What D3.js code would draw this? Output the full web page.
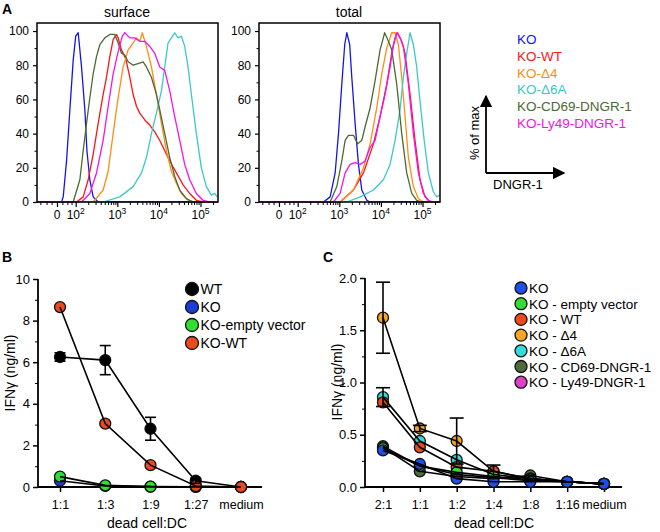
<!DOCTYPE html>
<html><head><meta charset="utf-8">
<script src="https://cdn.jsdelivr.net/npm/d3@7"></script>
<style>body{margin:0;background:#fff} svg{display:block;font-family:"Liberation Sans",Arial,sans-serif}</style>
</head><body><svg id="c" width="660" height="532"></svg>
<script>
// ---------- Panel A data: [DNGR-1 (log10 display units), % of max] ----------
const histNames = ["KO","KO-WT","KO-Δ4","KO-Δ6A","KO-CD69-DNGR-1","KO-Ly49-DNGR-1"];
const histColors = ["#1414e6","#ff1414","#ff8c14","#3cc8c8","#4b6a32","#f014f0"];
const histXTicks = [1.55, 2, 3, 4, 5];
const histXTickLabels = [["0",""],["10","2"],["10","3"],["10","4"],["10","5"]];
const histYTicks = [0,20,40,60,80,100];

const surfKO = [[1.66,0],[1.70,3],[1.78,24],[1.86,54],[1.94,83],[2.0,97],[2.06,99],[2.14,79],[2.22,54],[2.27,30],[2.34,13],[2.42,3],[2.54,0]];
const surfWT = [[2.02,0],[2.18,3],[2.30,13],[2.42,28],[2.54,46],[2.66,63],[2.74,73],[2.82,85],[2.90,95],[2.98,98],[3.02,96],[3.10,89],[3.20,84],[3.30,73],[3.38,63],[3.46,56],[3.54,52],[3.66,48],[3.78,45],[3.90,41],[4.02,36],[4.14,30],[4.26,24],[4.42,17],[4.58,10],[4.74,5],[4.90,1],[5.06,0]];
const surfD4 = [[2.42,0],[2.66,7],[2.78,18],[2.90,40],[3.02,61],[3.14,79],[3.26,89],[3.38,93],[3.46,96],[3.54,94],[3.60,99],[3.70,91],[3.82,79],[3.94,63],[4.06,46],[4.18,30],[4.30,18],[4.42,11],[4.54,5],[4.70,1],[4.86,0]];
const surfD6A = [[2.66,0],[3.06,3],[3.38,9],[3.58,17],[3.70,26],[3.82,40],[3.94,52],[4.06,65],[4.14,79],[4.22,93],[4.30,96],[4.38,99],[4.46,96],[4.54,97],[4.62,91],[4.70,79],[4.78,63],[4.90,40],[5.02,20],[5.14,9],[5.26,4],[5.34,5],[5.40,3]];
const surfCD69 = [[1.94,0],[2.10,13],[2.18,30],[2.26,46],[2.34,61],[2.42,75],[2.50,85],[2.58,92],[2.70,96],[2.82,98],[2.94,98],[3.02,93],[3.10,87],[3.18,86],[3.26,82],[3.38,80],[3.50,81],[3.62,82],[3.70,79],[3.82,73],[3.94,63],[4.02,54],[4.14,40],[4.26,26],[4.38,15],[4.50,7],[4.66,2],[4.82,0]];
const surfLy49 = [[2.14,0],[2.34,5],[2.50,17],[2.66,36],[2.78,56],[2.90,75],[3.02,88],[3.12,97],[3.18,99],[3.30,96],[3.42,96],[3.54,94],[3.66,94],[3.78,91],[3.90,87],[4.02,79],[4.14,77],[4.26,65],[4.38,50],[4.50,36],[4.62,22],[4.74,13],[4.90,5],[5.06,1],[5.22,0]];

const totKO = [[2.62,0],[2.78,3],[2.90,17],[2.98,40],[3.06,69],[3.13,92],[3.18,99],[3.25,92],[3.30,73],[3.38,46],[3.46,22],[3.54,7],[3.66,1],[3.74,0]];
const totWT = [[3.02,0],[3.34,7],[3.58,17],[3.82,34],[3.98,50],[4.14,69],[4.26,87],[4.34,96],[4.40,99],[4.50,94],[4.58,87],[4.70,63],[4.82,36],[4.94,13],[5.06,3],[5.18,0]];
const totD4 = [[3.02,0],[3.34,7],[3.58,20],[3.74,34],[3.90,55],[4.02,75],[4.14,90],[4.26,99],[4.34,99],[4.42,92],[4.50,73],[4.58,50],[4.66,26],[4.78,9],[4.90,2],[5.02,0]];
const totD6A = [[3.18,0],[3.50,3],[3.82,7],[4.06,13],[4.22,22],[4.34,36],[4.46,54],[4.54,73],[4.62,87],[4.70,99],[4.78,92],[4.86,79],[4.94,59],[5.04,36],[5.14,17],[5.26,6],[5.34,3],[5.41,4]];
const totCD69 = [[2.78,0],[2.94,9],[3.06,24],[3.14,36],[3.22,39],[3.34,39],[3.44,34],[3.54,36],[3.62,44],[3.74,55],[3.86,71],[3.98,89],[4.09,99],[4.18,94],[4.26,89],[4.38,69],[4.50,40],[4.62,17],[4.74,5],[4.86,1],[4.98,0]];
const totLy49 = [[2.86,0],[3.02,5],[3.14,17],[3.26,22],[3.38,23],[3.50,22],[3.62,24],[3.74,32],[3.86,36],[3.98,50],[4.10,63],[4.22,79],[4.30,92],[4.38,99],[4.46,96],[4.54,91],[4.66,69],[4.78,40],[4.90,17],[5.02,5],[5.14,1],[5.26,0]];

// ---------- Panel B data ----------
const bCats = ["1:1","1:3","1:9","1:27","medium"];
const bNames = ["WT","KO","KO-empty vector","KO-WT"];
const bColors = ["#000000","#1c3cd8","#33dd33","#ea4a1e"];
const bWT = [6.25,6.1,2.8,0.3,0];
const bWTerr = [0.2,0.7,0.55,0.12,0];
const bKO = [0.3,0.05,0.02,0.01,0];
const bEmpty = [0.5,0.08,0.02,0.01,0];
const bKOWT = [8.65,3.05,1.05,0.05,0];
const bYTicks = [0,2,4,6,8,10];

// ---------- Panel C data ----------
const cCats = ["2:1","1:1","1:2","1:4","1:8","1:16","medium"];
const cNames = ["KO","KO - empty vector","KO - WT","KO - Δ4","KO - Δ6A","KO - CD69-DNGR-1","KO - Ly49-DNGR-1"];
const cColors = ["#1f4fe8","#33dd33","#ea4a1e","#f5a623","#33dddd","#4d6b3c","#e040c8"];
const cKO = [0.35,0.22,0.08,0.05,0.05,0.05,0.03];
const cEmpty = [0.37,0.20,0.14,0.10,0.07,0.05,0.03];
const cWT = [0.81,0.38,0.19,0.15,0.08,0.05,0.03];
const cD4 = [1.62,0.56,0.44,0.15,0.08,0.05,0.03];
const cD4err = [0.34,0.03,0.22,0.06,0,0,0];
const cD6A = [0.86,0.44,0.26,0.12,0.08,0.05,0.03];
const cD6Aerr = [0.09,0,0,0,0,0,0];
const cCD69 = [0.38,0.15,0.10,0.08,0.11,0.05,0.03];
const cLy49 = [0.39,0.20,0.12,0.09,0.06,0.05,0.03];
const cYTicks = [0,0.5,1.0,1.5,2.0];

const svg = d3.select("#c");
const FONT = '"Liberation Sans",Arial,sans-serif';

// panel letters
[["A",2,14],["B",2,262],["C",323,262]].forEach(([t,x,y])=>{
  svg.append("text").attr("x",x).attr("y",y).attr("font-size",14).attr("font-weight","bold").text(t);
});

// ---------- Histogram panels ----------
function histPanel(x0, title, curves){
  const x = d3.scaleLinear().domain([1.07,5.42]).range([x0, x0+181]);
  const y = d3.scaleLinear().domain([0,104.7]).range([202,23]);
  const g = svg.append("g");
  const clipId = "clip"+x0;
  g.append("clipPath").attr("id",clipId).append("rect")
    .attr("x",x0).attr("y",20).attr("width",181).attr("height",182.5);
  const line = d3.line().x(d=>x(d[0])).y(d=>y(d[1]));
  const cg = g.append("g").attr("clip-path",`url(#${clipId})`);
  curves.forEach((c,i)=>{
    let pts = c.slice();
    if (pts[0][1]===0) pts.unshift([x.domain()[0],0]);
    if (pts[pts.length-1][1]===0) pts.push([x.domain()[1],0]);
    cg.append("path").attr("d",line(pts)).attr("fill","none")
      .attr("stroke",histColors[i]).attr("stroke-width",1.3).attr("stroke-linejoin","round");
  });
  g.append("rect").attr("x",x0).attr("y",23).attr("width",181).attr("height",179)
    .attr("fill","none").attr("stroke","#000").attr("stroke-width",1.5);
  // y axis
  const ya = g.append("g").attr("transform",`translate(${x0},0)`)
    .call(d3.axisLeft(y).tickValues(histYTicks).tickSize(4).tickSizeOuter(0));
  ya.select(".domain").remove();
  ya.selectAll("text").attr("font-size",12).attr("font-family",FONT).attr("fill","#000").attr("dx",-1);
  ya.selectAll("line").attr("stroke-width",1.2);
  const ym = g.append("g").attr("transform",`translate(${x0},0)`)
    .call(d3.axisLeft(y).tickValues(d3.range(10,100,20)).tickSize(2.5).tickFormat(""));
  ym.select(".domain").remove();
  // x axis
  const minor = [1.15,1.3,1.42,1.68,1.8,1.9];
  for (let n=2;n<=5;n++) for (let k=2;k<=9;k++){ const v=n+Math.log10(k); if (v<5.42) minor.push(v); }
  const xm = g.append("g").attr("transform","translate(0,202)")
    .call(d3.axisBottom(x).tickValues(minor).tickSize(3).tickFormat(""));
  xm.select(".domain").remove();
  const xa = g.append("g").attr("transform","translate(0,202)")
    .call(d3.axisBottom(x).tickValues(histXTicks).tickSize(5).tickFormat(""));
  xa.select(".domain").remove();
  xa.selectAll("line").attr("stroke-width",1.2);
  histXTicks.forEach((v,i)=>{
    const t = g.append("text").attr("x",x(v)).attr("y",219).attr("text-anchor","middle")
      .attr("font-size",12);
    t.append("tspan").text(histXTickLabels[i][0]);
    if (histXTickLabels[i][1]) t.append("tspan").attr("dy",-5).attr("font-size",8.5).text(histXTickLabels[i][1]);
  });
  g.append("text").attr("x",x0+90).attr("y",17).attr("text-anchor","middle").attr("font-size",14).text(title);
}
histPanel(37,"surface",[surfKO,surfWT,surfD4,surfD6A,surfCD69,surfLy49]);
histPanel(259,"total",[totKO,totWT,totD4,totD6A,totCD69,totLy49]);

// legend A
histNames.forEach((n,i)=>{
  svg.append("text").attr("x",517).attr("y",44+i*16.8).attr("font-size",13.5)
    .attr("fill",histColors[i]).text(n);
});
// axis arrows
svg.append("defs").append("marker").attr("id","arr").attr("viewBox","0 0 10 10")
  .attr("refX",9).attr("refY",5).attr("markerWidth",7).attr("markerHeight",7).attr("orient","auto")
  .append("path").attr("d","M0,0L10,5L0,10z").attr("fill","#000");
svg.append("line").attr("x1",486).attr("y1",173).attr("x2",486).attr("y2",96)
  .attr("stroke","#000").attr("stroke-width",1.8).attr("marker-end","url(#arr)");
svg.append("line").attr("x1",486).attr("y1",173).attr("x2",564).attr("y2",173)
  .attr("stroke","#000").attr("stroke-width",1.8).attr("marker-end","url(#arr)");
svg.append("text").attr("transform","translate(479,133) rotate(-90)").attr("text-anchor","middle")
  .attr("font-size",13).text("% of max");
svg.append("text").attr("x",493).attr("y",189).attr("font-size",13).text("DNGR-1");

// ---------- Dot/line panels ----------
function linePanel(opt){
  const x = d3.scalePoint().domain(opt.cats).range(opt.xr);
  const y = d3.scaleLinear().domain(opt.yd).range([487, opt.ytop]);
  const g = svg.append("g");
  // axes
  g.append("line").attr("x1",opt.ax).attr("x2",opt.axEnd).attr("y1",487).attr("y2",487).attr("stroke","#000").attr("stroke-width",1.8);
  g.append("line").attr("x1",opt.ax).attr("x2",opt.ax).attr("y1",487).attr("y2",opt.ytop).attr("stroke","#000").attr("stroke-width",1.8);
  const ya = g.append("g").attr("transform",`translate(${opt.ax},0)`)
    .call(d3.axisLeft(y).tickValues(opt.yticks).tickSize(5).tickFormat(opt.fmt));
  ya.select(".domain").remove();
  ya.selectAll("line").attr("stroke-width",1.5);
  ya.selectAll("text").attr("font-size",13).attr("font-family",FONT).attr("fill","#000");
  const ym = g.append("g").attr("transform",`translate(${opt.ax},0)`)
    .call(d3.axisLeft(y).tickValues(opt.yminor).tickSize(3).tickFormat(""));
  ym.select(".domain").remove();
  const xa = g.append("g").attr("transform","translate(0,487)")
    .call(d3.axisBottom(x).tickSize(5));
  xa.select(".domain").remove();
  xa.selectAll("line").attr("stroke-width",1.5);
  xa.selectAll("text").attr("font-size",12.5).attr("font-family",FONT).attr("fill","#000").attr("dy","1.1em");
  g.append("text").attr("x",opt.xlabX).attr("y",528).attr("text-anchor","middle").attr("font-size",14).text("dead cell:DC");
  g.append("text").attr("transform",`translate(${opt.ylabX},${opt.ylabY}) rotate(-90)`).attr("text-anchor","middle")
    .attr("font-size",14).text("IFNγ (ng/ml)");
  // markers
  const order = opt.order;
  order.forEach(i=>{
    const s = opt.series[i];
    g.selectAll(null).data(s).enter().append("circle")
      .attr("cx",(d,j)=>x(opt.cats[j])).attr("cy",d=>y(d)).attr("r",opt.r)
      .attr("fill",opt.colors[i]).attr("stroke","#111").attr("stroke-width",1.3);
  });
  // error bars
  opt.errs.forEach(([i,e])=>{
    opt.series[i].forEach((v,j)=>{
      if (!e[j]) return;
      const cx = x(opt.cats[j]);
      const lo = y(Math.max(0,v-e[j])), hi = y(v+e[j]);
      g.append("line").attr("x1",cx).attr("x2",cx).attr("y1",lo).attr("y2",hi).attr("stroke","#000").attr("stroke-width",1.6);
      [lo,hi].forEach(yy=>g.append("line").attr("x1",cx-opt.cap).attr("x2",cx+opt.cap).attr("y1",yy).attr("y2",yy).attr("stroke","#000").attr("stroke-width",1.6));
    });
  });
  // lines
  const line = d3.line().x((d,j)=>x(opt.cats[j])).y(d=>y(d));
  order.forEach(i=>{
    g.append("path").attr("d",line(opt.series[i])).attr("fill","none").attr("stroke","#000").attr("stroke-width",1.6);
  });
  // legend
  opt.names.forEach((n,i)=>{
    const ly = opt.legY + i*opt.legDy;
    g.append("circle").attr("cx",opt.legX).attr("cy",ly).attr("r",opt.legR)
      .attr("fill",opt.colors[i]).attr("stroke","#111").attr("stroke-width",1.3);
    g.append("text").attr("x",opt.legX+opt.legR+2).attr("y",ly+5).attr("font-size",opt.legFont).text(n);
  });
}

linePanel({cats:bCats, xr:[60,241], yd:[0,10], ytop:279, ax:38, axEnd:262,
  yticks:bYTicks, yminor:[1,3,5,7,9], fmt:d3.format("d"),
  xlabX:147, ylabX:15, ylabY:373, r:5.5, cap:5.5,
  series:[bWT,bKO,bEmpty,bKOWT], colors:bColors, names:bNames, order:[1,2,0,3],
  errs:[[0,bWTerr]], legX:192, legY:289, legDy:18, legR:6.5, legFont:14});

linePanel({cats:cCats, xr:[383,604], yd:[0,2], ytop:278, ax:365, axEnd:622,
  yticks:cYTicks, yminor:[0.25,0.75,1.25,1.75], fmt:d3.format(".1f"),
  xlabX:494, ylabX:342, ylabY:382, r:5.5, cap:7,
  series:[cKO,cEmpty,cWT,cD4,cD6A,cCD69,cLy49], colors:cColors, names:cNames, order:[6,5,4,3,2,1,0],
  errs:[[3,cD4err],[4,cD6Aerr]], legX:521, legY:288, legDy:15.7, legR:6, legFont:13.5});
</script></body></html>
